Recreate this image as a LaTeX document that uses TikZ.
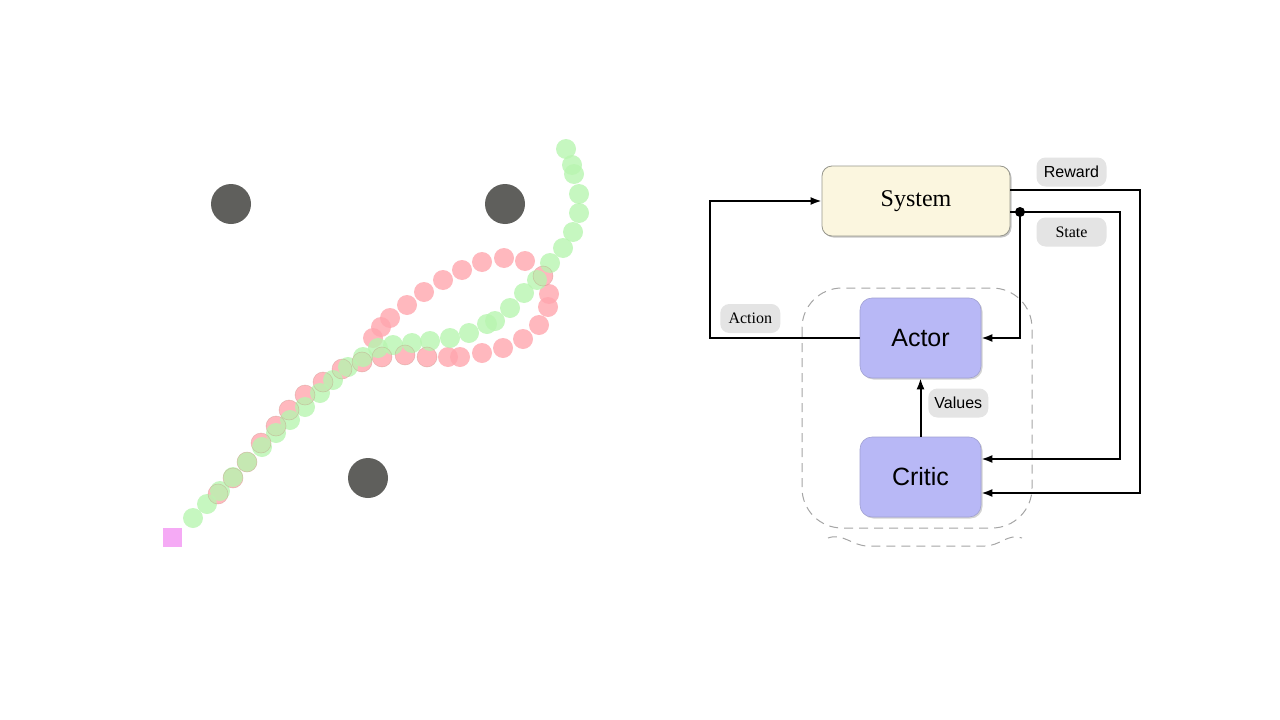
\documentclass[tikz,border=0pt]{standalone}
\usepackage{fontspec}
\setmainfont{Liberation Serif}
\setsansfont{Liberation Sans}
\usetikzlibrary{arrows.meta,shadows}
\definecolor{obst}{RGB}{95,95,92}
\definecolor{goalc}{RGB}{245,170,245}
\definecolor{greenc}{RGB}{184,245,176}
\definecolor{redc}{RGB}{255,166,174}
\definecolor{ringc}{RGB}{190,135,120}
\definecolor{sysfill}{RGB}{251,246,223}
\definecolor{sysdraw}{RGB}{150,150,140}
\definecolor{acfill}{RGB}{184,184,246}
\definecolor{acdraw}{RGB}{160,160,210}
\definecolor{lblfill}{RGB}{228,228,228}
\definecolor{dashc}{RGB}{165,165,165}
\begin{document}
\begin{tikzpicture}[x=1pt,y=-1pt,
  sysbox/.style={draw=sysdraw,line width=0.8pt,fill=sysfill,rounded corners=10pt,
    minimum width=188pt,minimum height=70pt,inner sep=0pt,
    drop shadow={shadow xshift=1.5pt,shadow yshift=-1.5pt,opacity=0.45},
    font=\fontsize{24}{28}\selectfont},
  acbox/.style={draw=acdraw,line width=0.6pt,fill=acfill,rounded corners=12pt,
    minimum width=121pt,minimum height=80pt,inner sep=0pt,
    drop shadow={shadow xshift=1.5pt,shadow yshift=-1.5pt,opacity=0.35},
    font=\sffamily\fontsize{25}{29}\selectfont},
  lbl/.style={fill=lblfill,rounded corners=9pt,minimum height=29pt,inner sep=0pt},
  lblsans/.style={lbl,font=\sffamily\fontsize{16}{19}\selectfont},
  lblserif/.style={lbl,font=\fontsize{16}{19}\selectfont},
  conn/.style={line width=2pt,-{Latex[length=11pt,width=8pt]}},
  wire/.style={line width=2pt},
  dashedbox/.style={draw=dashc,line width=1pt,dash pattern=on 9pt off 6pt},
  gdot/.style={fill=greenc,fill opacity=0.8},
  rdot/.style={fill=redc,fill opacity=0.8},
  ring/.style={draw=ringc,draw opacity=0.35,line width=0.6pt}]
\useasboundingbox (0,0) rectangle (1280,720);

% ---------- left: trajectories ----------
\foreach \x/\y in {231/204,505/204,368/478}
  \fill[obst] (\x,\y) circle (20);
\fill[goalc] (163,528) rectangle (182,547);

\foreach \x/\y in {218/494,233/478,247/462,261/443,276/426,289/410,305/395,323/382,
  342/369,362/362,382/357,405/355,427/357,448/357,460/357,482/353,503/348,523/339,
  539/325,548/307,549/294,543/276,525/261,504/258,482/262,462/270,443/280,424/292,
  407/305,390/318,381/327,373/338}
  \fill[rdot] (\x,\y) circle (10);

\foreach \x/\y in {193/518,207/504,220/491,233/477,247/462,262/447,276/433,290/420,
  305/407,320/393,333/380,348/367,363/357,378/348,393/345,412/343,430/341,450/338,
  469/333,487/324,495/321,510/308,524/293,537/280,550/263,563/248,573/232,579/213,
  579/194,574/174,572/165,566/149}
  \fill[gdot] (\x,\y) circle (10);

\foreach \x/\y in {218/494,233/478,247/462,261/443,276/426,289/410,305/395,323/382,
  342/369,362/362,382/357,405/355,427/357,543/276}
  \draw[ring] (\x,\y) circle (10);

% ---------- right: actor-critic diagram ----------
\draw[dashedbox,rounded corners=40pt] (802,288) rectangle (1032,528);
\draw[dashedbox] (828,538) to[out=20,in=180] (868,546) -- (985,546) to[out=0,in=160] (1022,538);

\node[sysbox] (system) at (916,201) {\raisebox{-2pt}{System}};
\node[acbox] (actor) at (920.5,338) {Actor};
\node[acbox] (critic) at (920.5,477) {Critic};

\node[lblsans,minimum width=70pt] (reward) at (1071.5,172) {Reward};
\node[lblserif,minimum width=70pt] (state) at (1071.5,232) {State};
\node[lblserif,minimum width=60pt] (action) at (750.3,318.5) {Action};
\node[lblsans,minimum width=60pt] (values) at (958.3,403) {Values};

\coordinate (rw) at (1010,190);
\coordinate (dot) at (1020,212);

\draw[conn] (actor.west) -- ++(-150,0) |- (system.west);
\draw[conn] (rw) -- (1140,190) |- ([yshift=-16pt]critic.east);
\draw[wire] (system.east |- dot) -- (dot);
\draw[conn] (dot) -- (1120,212) |- ([yshift=18pt]critic.east);
\draw[conn] (dot) |- (actor.east);
\fill (dot) circle (5);
\draw[conn] (critic.north) -- (actor.south);
\end{tikzpicture}
\end{document}
